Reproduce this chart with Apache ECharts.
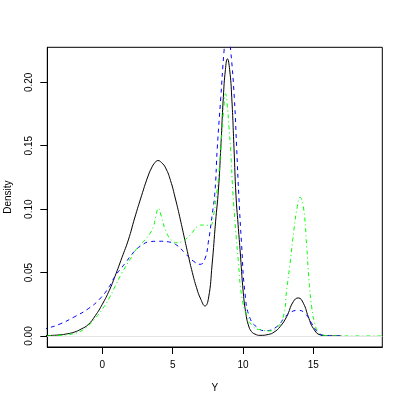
<!DOCTYPE html>
<html>
<head>
<meta charset="utf-8">
<script src="https://cdn.jsdelivr.net/npm/echarts@6/dist/echarts.min.js"></script>
<style>html,body{margin:0;padding:0;background:#fff}#c{width:407px;height:407px}</style>
</head>
<body>
<div id="c"></div>
<script>
// Tick labels
const xTicks = [0, 5, 10, 15];
const yTicks = [0, 0.05, 0.10, 0.15, 0.20];

// Black (solid) density
const blackX = [-4.2,-3.91,-3,-2.5,-2,-1.5,-1,-0.5,0,0.5,0.9,1.4,1.85,2.3,2.8,3.2,3.5,3.75,3.95,4.2,4.5,4.85,5.2,5.5,5.8,6.1,6.4,6.7,7.0,7.3,7.55,7.8,8.05,8.25,8.42,8.6,8.75,8.89,9.05,9.2,9.36,9.5,9.65,9.79,10.02,10.2,10.38,10.6,10.85,11.2,11.8,12.2,12.63,13.1,13.57,13.93,14.29,14.64,15.0,15.5,16.0,17.0];
const blackY = [0.0002,0.0003,0.0009,0.0017,0.003,0.0055,0.009,0.016,0.025,0.036,0.047,0.062,0.0757,0.093,0.111,0.1245,0.1325,0.1368,0.1383,0.1368,0.1325,0.1225,0.108,0.094,0.079,0.064,0.050,0.038,0.029,0.0237,0.030,0.056,0.09,0.115,0.148,0.188,0.210,0.2185,0.210,0.188,0.148,0.111,0.088,0.068,0.034,0.018,0.0087,0.0035,0.0015,0.0005,0.0012,0.003,0.0073,0.0152,0.027,0.030,0.0258,0.0152,0.006,0.0008,0.0001,0];

// Blue (dashed) density
const blueX = [-4.2,-3.91,-3,-2,-1,-0.2,0.5,0.9,1.6,2.3,2.8,3.3,4.0,4.7,5.3,5.9,6.5,6.95,7.3,7.55,7.8,8.0,8.17,8.42,8.65,8.75,8.88,9.0,9.13,9.38,9.55,9.7,9.9,10.14,10.5,11.1,11.56,12.4,13.0,13.46,13.93,14.4,14.88,15.35,15.8,16.5,17.1];
const blueY = [0.005,0.006,0.0095,0.015,0.0215,0.029,0.039,0.047,0.057,0.067,0.0715,0.0742,0.0747,0.0742,0.0715,0.065,0.0588,0.0565,0.061,0.075,0.095,0.113,0.148,0.188,0.2245,0.233,0.238,0.234,0.2245,0.188,0.148,0.111,0.072,0.034,0.014,0.006,0.0042,0.0073,0.0152,0.0192,0.0202,0.0179,0.010,0.0026,0.0005,0.0001,0];

// Green (dot-dash) density
const greenX = [-4.2,-3.91,-3,-2.65,-2,-1.5,-1,-0.5,0,0.5,0.9,1.38,2.09,2.56,3.03,3.4,3.63,3.8,3.98,4.2,4.58,5.05,5.35,5.64,6.0,6.35,6.82,7.2,7.65,7.9,8.1,8.3,8.5,8.65,8.75,8.87,9.0,9.13,9.27,9.48,9.67,9.9,10.26,10.73,11.33,11.9,12.4,12.86,13.1,13.34,13.62,13.86,14.05,14.29,14.53,14.69,14.88,15.1,15.35,15.8,16.5,20.5];
const greenY = [0,0.0001,0.0005,0.0008,0.002,0.004,0.008,0.014,0.021,0.030,0.039,0.0494,0.0625,0.0704,0.0757,0.081,0.086,0.094,0.1007,0.094,0.081,0.0744,0.0735,0.0744,0.077,0.081,0.0867,0.0875,0.087,0.095,0.11,0.13,0.16,0.182,0.191,0.183,0.165,0.145,0.115,0.083,0.0586,0.032,0.0166,0.0073,0.0047,0.004,0.0065,0.015,0.036,0.057,0.0836,0.102,0.1093,0.102,0.070,0.044,0.023,0.010,0.0034,0.0005,0,0];

const zip = (xs, ys) => xs.map((x, i) => [x, ys[i]]);
const FONT = 'Liberation Sans, Arial, Helvetica, sans-serif';

const chart = echarts.init(document.getElementById('c'), null, {renderer: 'canvas'});
chart.setOption({
  animation: false,
  backgroundColor: '#fff',
  grid: {left: 47.3, right: 24.7, top: 47.3, bottom: 60, containLabel: false, outerBoundsMode: 'none', show: true, borderColor: '#000', borderWidth: 1, backgroundColor: 'transparent'},
  xAxis: {
    type: 'value', min: -3.91, max: 19.9,
    name: 'Y', nameLocation: 'middle', nameGap: 36,
    nameTextStyle: {fontFamily: FONT, fontSize: 10, color: '#000'},
    axisLine: {show: true, onZero: false, lineStyle: {color: '#000', width: 1}},
    splitLine: {show: false},
    axisTick: {show: true, inside: false, length: 7, lineStyle: {color: '#000', width: 1}, customValues: xTicks},
    axisLabel: {show: true, margin: 13, fontFamily: FONT, fontSize: 10, color: '#000', customValues: xTicks, formatter: v => String(v)}
  },
  yAxis: {
    type: 'value', min: -0.00868, max: 0.2276,
    name: 'Density', nameLocation: 'middle', nameGap: 34, nameRotate: 90,
    nameTextStyle: {fontFamily: FONT, fontSize: 10, color: '#000'},
    axisLine: {show: true, onZero: false, lineStyle: {color: '#000', width: 1}},
    splitLine: {show: false},
    axisTick: {show: true, inside: false, length: 7, lineStyle: {color: '#000', width: 1}, customValues: yTicks},
    axisLabel: {show: true, rotate: 90, margin: 13, fontFamily: FONT, fontSize: 10, color: '#000', customValues: yTicks, formatter: v => v.toFixed(2)}
  },
  series: [
    {
      type: 'line', data: zip(blackX, blackY), showSymbol: false, smooth: 0.5, clip: true,
      lineStyle: {color: '#000', width: 1, type: 'solid'},
      markLine: {silent: true, symbol: ['none','none'], label: {show: false}, lineStyle: {color: '#e4e4e4', width: 1, type: 'solid'}, data: [{yAxis: 0}]}
    },
    {
      type: 'line', data: zip(blueX, blueY), showSymbol: false, smooth: 0.5, clip: true,
      lineStyle: {color: '#0000ff', width: 1, type: [4, 4]}
    },
    {
      type: 'line', data: zip(greenX, greenY), showSymbol: false, smooth: 0.5, clip: true,
      lineStyle: {color: '#00ff00', width: 1, type: [1, 3, 4, 3]}
    }
  ]
});
</script>
</body>
</html>
